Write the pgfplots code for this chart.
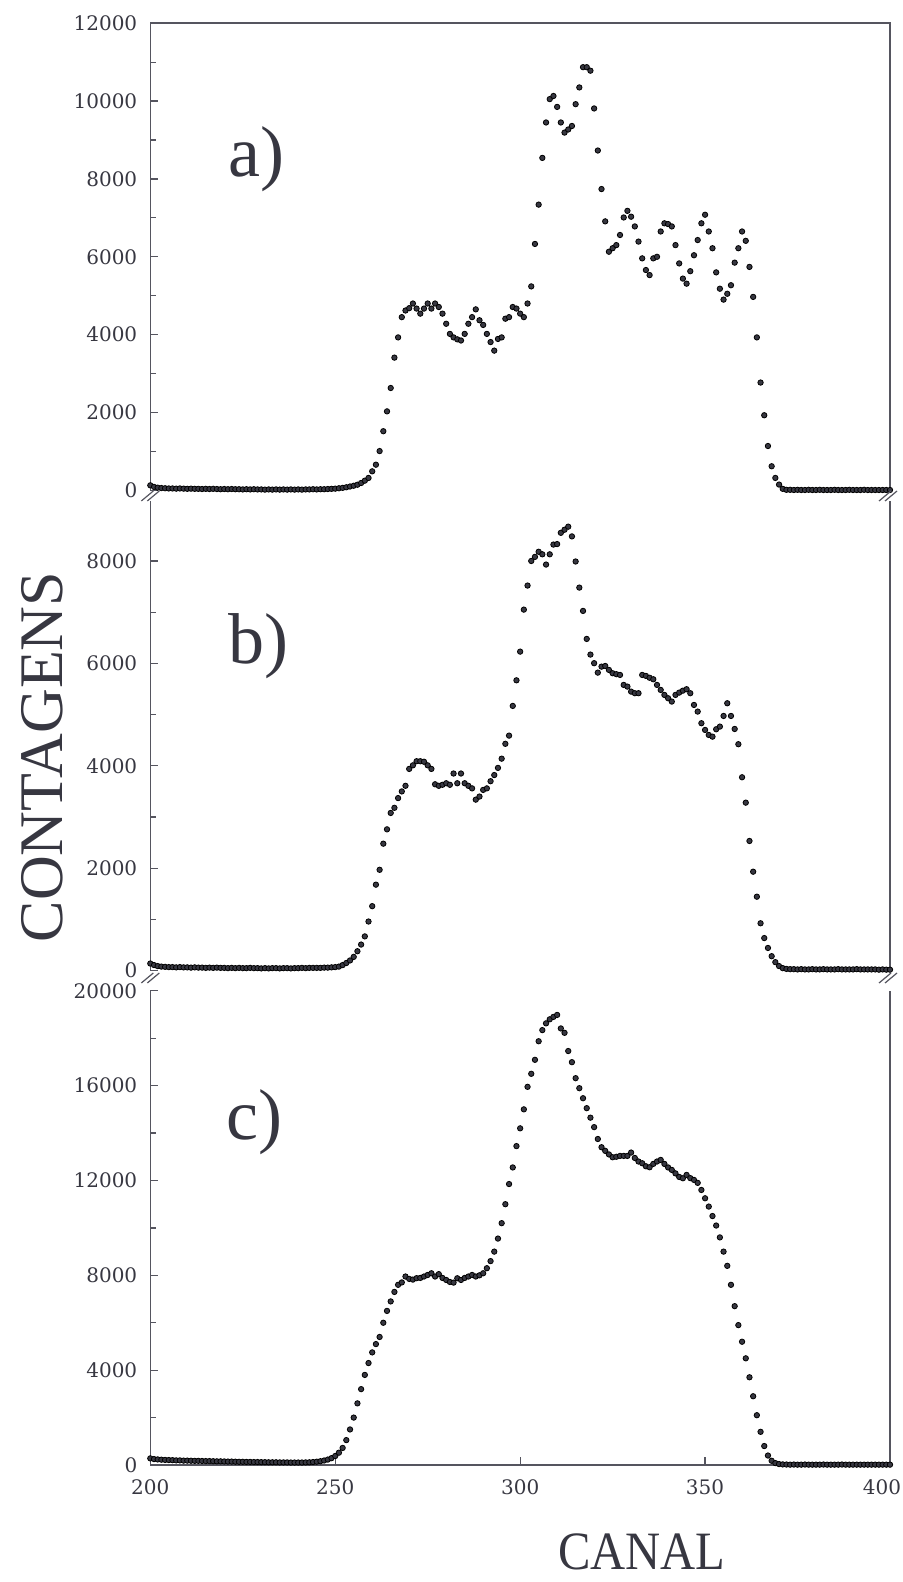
\documentclass[border=0pt]{standalone}
\usepackage{fontspec}
\setmainfont{Liberation Serif}
\newfontfamily\tickfont{DejaVu Serif}
\usepackage{pgfplots}
\pgfplotsset{compat=1.18}
\definecolor{ink}{RGB}{55,55,65}
\definecolor{axgray}{RGB}{85,85,95}

\pgfplotsset{
  panel/.style={
    scale only axis, width=369.85pt, xmin=200, xmax=400, ymin=0,
    anchor=north west, clip=false,
    axis line style={draw=none},
    tick align=inside, ytick pos=left, xtick pos=bottom,
    major tick length=4pt, minor tick length=3pt,
    every tick/.style={axgray, line width=0.6pt},
    minor y tick num=1,
    scaled y ticks=false,
    /pgf/number format/assume math mode=true,
    /pgf/number format/1000 sep={},
    ticklabel style={font=\tickfont\fontsize{10}{10}\selectfont, text=ink},
    yticklabel style={xshift=-3pt},
    xticklabel style={inner sep=0pt, yshift=-7pt},
  },
  dots/.style={only marks, mark=*, mark size=1.35pt, mark options={draw=none, fill=ink}},
}
\newcommand{\brk}[1]{\draw[axgray, line width=0.6pt, shift={#1}] (-4.5pt,-2.5pt)--(1.5pt,2.5pt) (-1.5pt,-2.5pt)--(4.5pt,2.5pt);}

\begin{document}
\begin{tikzpicture}
\useasboundingbox (0,0) rectangle (451.5pt,-791pt);

% a)
\begin{axis}[panel, at={(75.15pt,-11.6pt)}, height=233.6pt, ymax=12000,
  ytick={0,2000,...,12000}, xtick=\empty]
\addplot[dots] coordinates {
(200,130)(201,90)(202,70)(203,60)(204,55)(205,50)(206,50)(207,45)(208,50)(209,45)
(210,40)(211,45)(212,40)(213,40)(214,35)(215,40)(216,35)(217,40)(218,35)(219,30)
(220,35)(221,30)(222,35)(223,30)(224,30)(225,25)(226,30)(227,25)(228,30)(229,25)
(230,25)(231,20)(232,25)(233,20)(234,25)(235,20)(236,25)(237,20)(238,25)(239,20)
(240,25)(241,20)(242,25)(243,25)(244,30)(245,25)(246,30)(247,30)(248,35)(249,40)
(250,45)(251,55)(252,65)(253,80)(254,100)(255,120)(256,146)(257,190)(258,250)(259,320)
(260,490)(261,660)(262,1010)(263,1520)(264,2030)(265,2630)(266,3410)(267,3930)(268,4450)(269,4620)
(270,4680)(271,4800)(272,4670)(273,4540)(274,4670)(275,4800)(276,4670)(277,4800)(278,4710)(279,4540)
(280,4280)(281,4020)(282,3930)(283,3880)(284,3850)(285,4020)(286,4280)(287,4450)(288,4650)(289,4370)
(290,4250)(291,4020)(292,3810)(293,3590)(294,3890)(295,3930)(296,4410)(297,4450)(298,4710)(299,4670)
(300,4540)(301,4450)(302,4800)(303,5240)(304,6330)(305,7340)(306,8540)(307,9450)(308,10050)(309,10130)
(310,9850)(311,9450)(312,9190)(313,9270)(314,9360)(315,9920)(316,10350)(317,10870)(318,10870)(319,10780)
(320,9810)(321,8730)(322,7740)(323,6910)(324,6130)(325,6220)(326,6300)(327,6560)(328,7010)(329,7180)
(330,7030)(331,6780)(332,6390)(333,5960)(334,5660)(335,5530)(336,5960)(337,6000)(338,6650)(339,6860)
(340,6840)(341,6780)(342,6300)(343,5830)(344,5440)(345,5310)(346,5630)(347,6040)(348,6430)(349,6860)
(350,7080)(351,6650)(352,6220)(353,5600)(354,5180)(355,4900)(356,5050)(357,5270)(358,5850)(359,6220)
(360,6650)(361,6410)(362,5740)(363,4970)(364,3930)(365,2770)(366,1930)(367,1140)(368,620)(369,320)
(370,150)(371,40)(372,15)(373,15)(374,10)(375,15)(376,10)(377,10)(378,15)(379,10)
(380,10)(381,15)(382,10)(383,10)(384,10)(385,15)(386,10)(387,10)(388,10)(389,15)
(390,10)(391,10)(392,10)(393,15)(394,10)(395,10)(396,10)(397,10)(398,10)(399,10)(400,10)
};
\draw[axgray, line width=0.8pt] (rel axis cs:0,0) -- (rel axis cs:0,1) -- (rel axis cs:1,1) -- (rel axis cs:1,0);
\end{axis}

% b)
\begin{axis}[panel, at={(75.15pt,-250.5pt)}, height=234.85pt, ymax=9171,
  ytick={0,2000,...,8000}, xtick=\empty]
\addplot[dots] coordinates {
(200,140)(201,110)(202,90)(203,80)(204,75)(205,70)(206,70)(207,65)(208,70)(209,65)
(210,65)(211,60)(212,65)(213,60)(214,60)(215,55)(216,60)(217,55)(218,60)(219,55)
(220,55)(221,50)(222,55)(223,50)(224,55)(225,50)(226,50)(227,55)(228,50)(229,50)
(230,45)(231,50)(232,45)(233,50)(234,50)(235,45)(236,50)(237,50)(238,45)(239,50)
(240,50)(241,55)(242,50)(243,55)(244,55)(245,55)(246,55)(247,60)(248,60)(249,65)
(250,70)(251,80)(252,110)(253,150)(254,200)(255,270)(256,380)(257,510)(258,670)(259,960)
(260,1260)(261,1680)(262,1970)(263,2480)(264,2760)(265,3080)(266,3180)(267,3370)(268,3500)(269,3610)
(270,3940)(271,4010)(272,4090)(273,4090)(274,4080)(275,4010)(276,3940)(277,3640)(278,3610)(279,3630)
(280,3660)(281,3630)(282,3850)(283,3660)(284,3850)(285,3660)(286,3610)(287,3560)(288,3340)(289,3400)
(290,3530)(291,3560)(292,3700)(293,3820)(294,3960)(295,4140)(296,4430)(297,4590)(298,5170)(299,5670)
(300,6230)(301,7050)(302,7520)(303,8000)(304,8080)(305,8180)(306,8130)(307,7930)(308,8130)(309,8320)
(310,8330)(311,8550)(312,8610)(313,8670)(314,8480)(315,7990)(316,7480)(317,7025)(318,6478)(319,6172)
(320,6004)(321,5820)(322,5937)(323,5950)(324,5873)(325,5808)(326,5790)(327,5775)(328,5580)(329,5547)
(330,5449)(331,5418)(332,5418)(333,5775)(334,5756)(335,5720)(336,5690)(337,5580)(338,5482)(339,5385)
(340,5320)(341,5255)(342,5385)(343,5430)(344,5468)(345,5496)(346,5418)(347,5189)(348,5059)(349,4832)
(350,4701)(351,4603)(352,4570)(353,4714)(354,4766)(355,4974)(356,5222)(357,4974)(358,4720)(359,4422)
(360,3777)(361,3281)(362,2533)(363,1933)(364,1445)(365,926)(366,637)(367,444)(368,283)(369,167)
(370,90)(371,50)(372,35)(373,30)(374,30)(375,25)(376,30)(377,25)(378,25)(379,30)
(380,25)(381,25)(382,30)(383,25)(384,25)(385,25)(386,30)(387,25)(388,25)(389,25)
(390,25)(391,30)(392,25)(393,25)(394,25)(395,25)(396,25)(397,20)(398,25)(399,20)(400,20)
};
\draw[axgray, line width=0.8pt] (rel axis cs:0,0) -- (rel axis cs:0,1) (rel axis cs:1,1) -- (rel axis cs:1,0);
\end{axis}

% c)
\begin{axis}[panel, at={(75.15pt,-495.4pt)}, height=237.1pt, ymax=20000,
  ytick={0,4000,...,20000}, xtick={200,250,...,400},
  xticklabels={200,250,300,350,{\hspace*{-8pt}400}}]
\addplot[dots] coordinates {
(200,280)(201,250)(202,235)(203,225)(204,215)(205,210)(206,205)(207,195)(208,195)(209,185)
(210,185)(211,180)(212,175)(213,175)(214,170)(215,165)(216,165)(217,160)(218,155)(219,155)
(220,150)(221,145)(222,145)(223,140)(224,135)(225,135)(226,130)(227,130)(228,125)(229,125)
(230,120)(231,120)(232,115)(233,115)(234,115)(235,110)(236,110)(237,110)(238,105)(239,105)
(240,105)(241,105)(242,110)(243,115)(244,125)(245,140)(246,160)(247,190)(248,230)(249,290)
(250,380)(251,520)(252,720)(253,1050)(254,1500)(255,2000)(256,2600)(257,3200)(258,3800)(259,4300)
(260,4750)(261,5100)(262,5400)(263,6000)(264,6500)(265,6900)(266,7300)(267,7600)(268,7700)(269,7950)
(270,7850)(271,7820)(272,7880)(273,7890)(274,7950)(275,8016)(276,8087)(277,7950)(278,8050)(279,7890)
(280,7805)(281,7720)(282,7693)(283,7876)(284,7805)(285,7890)(286,7950)(287,8016)(288,7950)(289,8000)
(290,8087)(291,8300)(292,8600)(293,9000)(294,9550)(295,10200)(296,11000)(297,11850)(298,12550)(299,13450)
(300,14200)(301,15000)(302,15950)(303,16500)(304,17090)(305,17873)(306,18342)(307,18627)(308,18798)(309,18900)
(310,18983)(311,18413)(312,18228)(313,17460)(314,16990)(315,16315)(316,15893)(317,15470)(318,15050)(319,14650)
(320,14250)(321,13750)(322,13403)(323,13250)(324,13100)(325,12980)(326,13000)(327,13037)(328,13037)(329,13037)
(330,13178)(331,12950)(332,12800)(333,12727)(334,12600)(335,12558)(336,12700)(337,12800)(338,12868)(339,12700)
(340,12550)(341,12446)(342,12300)(343,12150)(344,12094)(345,12235)(346,12100)(347,12024)(348,11900)(349,11600)
(350,11250)(351,10900)(352,10500)(353,10100)(354,9600)(355,9000)(356,8400)(357,7600)(358,6700)(359,5900)
(360,5200)(361,4500)(362,3700)(363,2900)(364,2100)(365,1400)(366,800)(367,400)(368,180)(369,80)
(370,40)(371,25)(372,20)(373,15)(374,20)(375,15)(376,15)(377,20)(378,15)(379,15)
(380,15)(381,15)(382,20)(383,15)(384,15)(385,15)(386,15)(387,20)(388,15)(389,15)
(390,15)(391,15)(392,15)(393,15)(394,15)(395,15)(396,15)(397,15)(398,15)(399,15)(400,15)
};
\draw[axgray, line width=0.8pt] (rel axis cs:0,1) -- (rel axis cs:0,0) -- (rel axis cs:1,0) -- (rel axis cs:1,1);
\end{axis}

% break marks
\brk{(75.15pt,-248pt)}
\brk{(444pt,-248pt)}
\brk{(75.15pt,-489pt)}
\brk{(444pt,-489pt)}

% panel letters and axis titles
\node[font=\fontsize{36}{36}\selectfont, text=ink] at (128pt,-79.7pt) {a)};
\node[font=\fontsize{36}{36}\selectfont, text=ink] at (129pt,-323pt) {b)};
\node[font=\fontsize{36}{36}\selectfont, text=ink] at (127pt,-561pt) {c)};
\node[font=\fontsize{31}{31}\selectfont, text=ink, rotate=90, inner sep=0pt] at (21.2pt,-378.5pt) {CONTAGENS};
\node[font=\fontsize{27}{27}\selectfont, text=ink, xscale=0.9, inner sep=0pt] at (321pt,-776pt) {CANAL};
\end{tikzpicture}
\end{document}
